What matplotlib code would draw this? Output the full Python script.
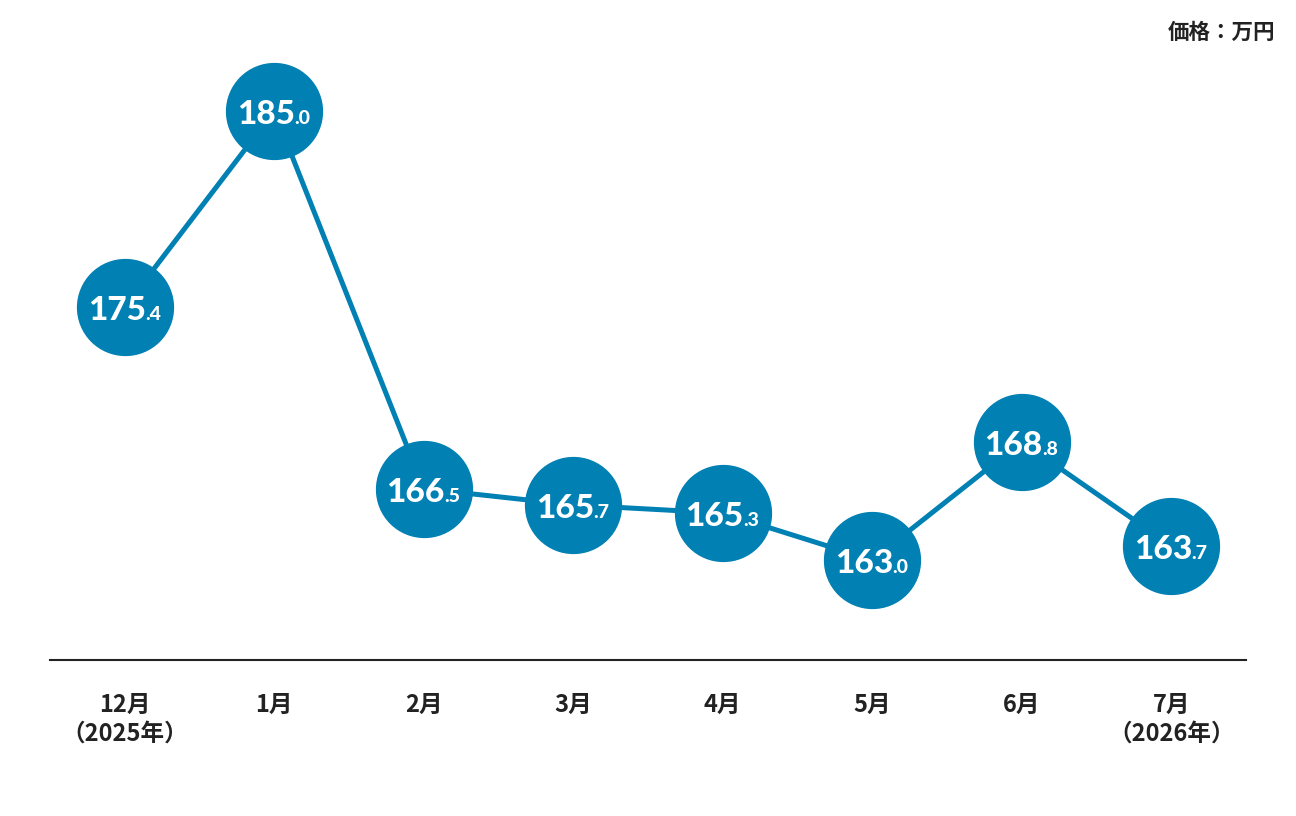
import matplotlib
matplotlib.use("Agg")
import matplotlib.pyplot as plt

# Price per month (万円)
months = ["12月\n（2025年）", "1月", "2月", "3月", "4月", "5月", "6月", "7月\n（2026年）"]
prices = [175.4, 185.0, 166.5, 165.7, 165.3, 163.0, 168.8, 163.7]
unit_label = "価格：万円"

blue = "#0080b3"
jp_font = ["Noto Sans CJK JP", "DejaVu Sans"]
num_font = ["Lato", "DejaVu Sans"]

fig = plt.figure(figsize=(12.96, 8.16), dpi=100)
ax = fig.add_axes([50 / 1296, 156 / 816, 1196 / 1296, 660 / 816])

xs = list(range(len(prices)))
ax.plot(xs, prices, color=blue, linewidth=3.6, marker="o", markersize=69,
        markerfacecolor=blue, markeredgecolor=blue, zorder=2)

# value labels: big integer part + small decimal part
for x, v in zip(xs, prices):
    whole, dec = f"{v:.1f}".split(".")
    ax.annotate(whole, (x, v), xytext=(15, -9.5), textcoords="offset points",
                ha="right", va="baseline", color="white", fontsize=24,
                fontweight=900, family=num_font, zorder=3)
    ax.annotate("." + dec, (x, v), xytext=(14.5, -9.5), textcoords="offset points",
                ha="left", va="baseline", color="white", fontsize=14,
                fontweight=900, family=num_font, zorder=3)

ax.set_xlim(-0.5, 7.5)
ax.set_ylim(158.1, 190.45)

for side in ["top", "right", "left"]:
    ax.spines[side].set_visible(False)
ax.spines["bottom"].set_color("#222222")
ax.spines["bottom"].set_linewidth(1.5)
ax.set_yticks([])
ax.set_xticks(xs)
ax.set_xticklabels(months, family=jp_font, fontsize=17, fontweight="bold",
                   color="#222222", linespacing=1.22, va="top")
ax.tick_params(axis="x", length=0, pad=24)

fig.text(1275 / 1296, 1 - 32 / 816, unit_label, ha="right", va="center",
         family=jp_font, fontsize=15.5, fontweight="bold", color="#222222")

fig.savefig("out.png", dpi=100)
